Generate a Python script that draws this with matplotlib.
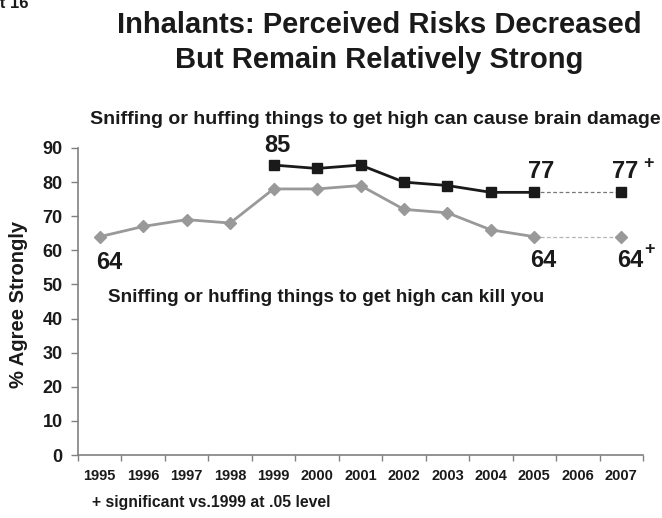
import matplotlib
matplotlib.use("Agg")
import matplotlib.pyplot as plt
import numpy as np

plt.rcParams['font.family'] = ['Liberation Sans', 'DejaVu Sans']
plt.rcParams['font.weight'] = 'bold'

years = ["1995", "1996", "1997", "1998", "1999", "2000", "2001",
         "2002", "2003", "2004", "2005", "2006", "2007"]
# None marks a year with no survey value
brain_damage = [None, None, None, None, 85, 84, 85, 80, 79, 77, 77, None, 77]
kill_you = [64, 67, 69, 68, 78, 78, 79, 72, 71, 66, 64, None, 64]

W, H = 662, 518
x = np.arange(len(years))

def fx(px):
    return px / W

def fy(py):
    return 1 - py / H

fig = plt.figure(figsize=(W / 100, H / 100), dpi=100)
ax = fig.add_axes([fx(78), fy(455), fx(643) - fx(78), fy(148) - fy(455)])

dark = "#1a1a1a"
grey = "#999999"

# solid run through 2005, thin dashed bridge across the missing 2006 value
for vals, col, mk, ms, dcol in [(kill_you, grey, 'D', 6.5, "#b5b5b5"),
                                (brain_damage, dark, 's', 6.5, "#777777")]:
    xs = [i for i in range(11) if vals[i] is not None]
    ys = [vals[i] for i in xs]
    ax.plot(xs, ys, color=col, lw=2, marker=mk, ms=ms, mec=col, mfc=col, zorder=3)
    ax.plot([10, 12], [vals[10], vals[12]], color=dcol, lw=0.9, ls=(0, (3, 2)), zorder=2)
    ax.plot([12], [vals[12]], color=col, marker=mk, ms=ms, mec=col, mfc=col, zorder=3)

ax.set_xlim(-0.5, len(years) - 0.5)
ax.set_ylim(0, 90)
ax.set_yticks(np.arange(0, 91, 10))
ax.set_yticklabels([str(v) for v in range(0, 91, 10)], fontsize=13, fontweight='bold', color=dark)
ax.set_xticks(x)
ax.set_xticklabels(years, fontsize=10.5, fontweight='bold', color=dark)
ax.set_xticks(np.arange(-0.5, len(years), 1), minor=True)
ax.tick_params(axis='x', which='major', length=0, pad=10)
ax.tick_params(axis='x', which='minor', length=4, width=1, color="#808080", direction='out')
ax.tick_params(axis='y', length=5, width=1, color="#808080", direction='out', pad=6)
for s in ['top', 'right']:
    ax.spines[s].set_visible(False)
for s in ['left', 'bottom']:
    ax.spines[s].set_color("#808080")
    ax.spines[s].set_linewidth(1.2)

fig.text(fx(19), fy(304), "% Agree Strongly", fontsize=14.5, fontweight='bold',
         color=dark, rotation=90, ha='center', va='center')

# value callouts placed relative to the points they describe
lab = dict(fontsize=17, fontweight='bold', color=dark, ha='center', va='center')
plus = dict(fontsize=13, fontweight='bold', color=dark, ha='center', va='center')
ax.text(4.08, brain_damage[4] + 5.6, str(brain_damage[4]), **lab)
ax.text(10.15, brain_damage[10] + 6.0, str(brain_damage[10]), **lab)
ax.text(12.1, brain_damage[12] + 6.0, str(brain_damage[12]), **lab)
ax.text(12.62, brain_damage[12] + 8.6, "+", **plus)
ax.text(0.22, kill_you[0] - 7.7, str(kill_you[0]), **lab)
ax.text(10.2, kill_you[10] - 7.1, str(kill_you[10]), **lab)
ax.text(12.2, kill_you[12] - 7.1, str(kill_you[12]), **lab)
ax.text(12.64, kill_you[12] - 3.9, "+", **plus)

fig.text(fx(108), fy(302), "Sniffing or huffing things to get high can kill you",
         fontsize=13.6, fontweight='bold', color=dark, ha='left', va='baseline')

fig.text(fx(90), fy(123.5), "Sniffing or huffing things to get high can cause brain damage",
         fontsize=14, fontweight='bold', color=dark, ha='left', va='baseline')

fig.text(fx(379), fy(33), "Inhalants: Perceived Risks Decreased",
         fontsize=21, fontweight='bold', color=dark, ha='center', va='baseline')
fig.text(fx(379), fy(68), "But Remain Relatively Strong",
         fontsize=21, fontweight='bold', color=dark, ha='center', va='baseline')

fig.text(fx(28), fy(8), "Chart 16", fontsize=12, fontweight='bold', color=dark,
         ha='right', va='baseline')

fig.text(fx(92), fy(503), "+ significant vs.1999 at .05 level",
         fontsize=11.3, fontweight='bold', color=dark, ha='left', va='center')

fig.savefig("out.png", dpi=100)
